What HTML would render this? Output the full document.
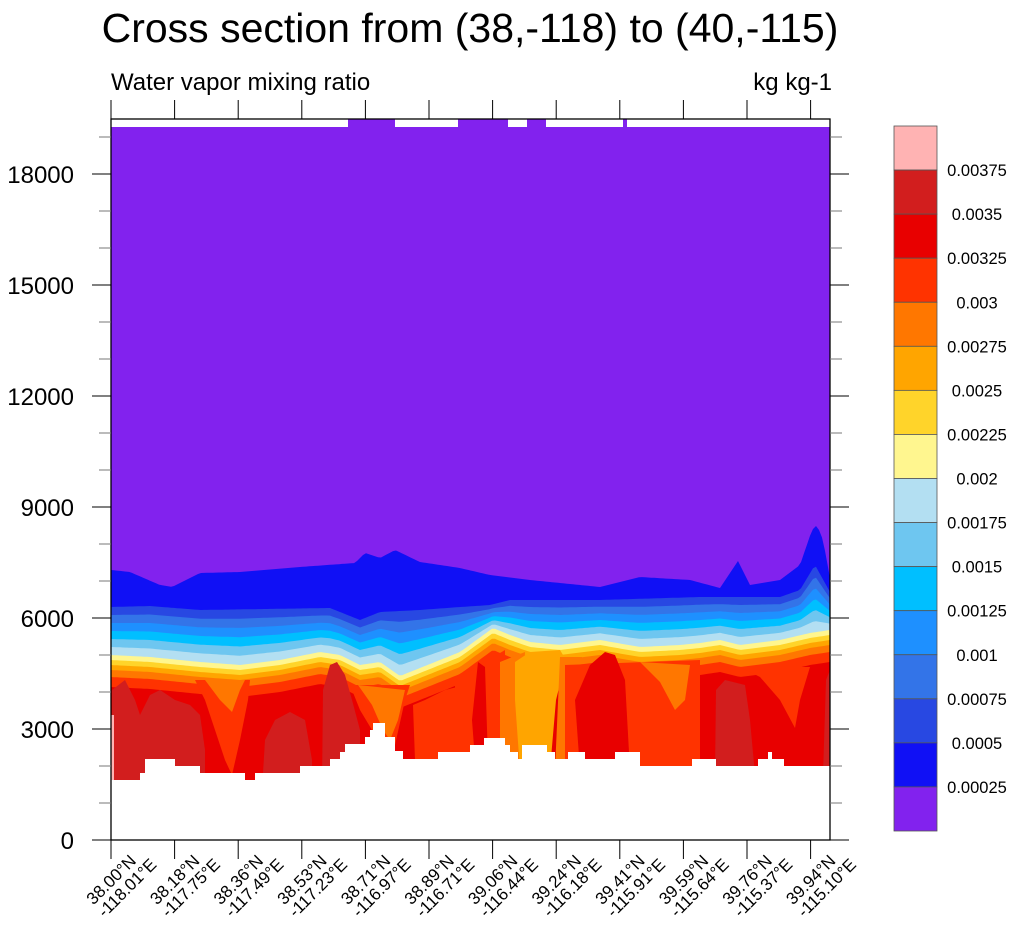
<!DOCTYPE html>
<html><head><meta charset="utf-8"><style>
body{margin:0;background:#fff;width:1016px;height:924px;overflow:hidden}
svg text{font-family:"Liberation Sans",sans-serif;fill:#000}
</style></head><body>
<svg id="s" width="1016" height="924" xmlns="http://www.w3.org/2000/svg">
<text x="470" y="42" font-size="41" text-anchor="middle">Cross section from (38,-118) to (40,-115)</text>
<text x="111" y="90" font-size="24">Water vapor mixing ratio</text>
<text x="832" y="90" font-size="24" text-anchor="end">kg kg-1</text>
<g id="plot"></g>
<g id="axes"></g>
<g id="cb"></g>
</svg>
<script>
var NS="http://www.w3.org/2000/svg";
function el(p,t,a,txt){var e=document.createElementNS(NS,t);for(var k in a)e.setAttribute(k,a[k]);if(txt!==undefined)e.textContent=txt;document.getElementById(p).appendChild(e);return e;}
function interp(arr,x){for(var i=0;i<arr.length-1;i++){if(x>=arr[i][0]&&x<=arr[i+1][0]){var t=(x-arr[i][0])/(arr[i+1][0]-arr[i][0]);return arr[i][1]+t*(arr[i+1][1]-arr[i][1]);}}return arr[arr.length-1][1];}
var P=[[111,570],[130,572],[160,585],[172,587],[200,573],[240,572],[300,567],[355,563],[365,553],[380,558],[395,550],[420,562],[460,568],[490,575],[530,580],[560,583],[600,587],[640,577],[690,580],[720,588],[738,561],[750,585],[780,580],[800,565],[812,530],[817,525],[823,540],[830,578]];
var B=[[111,607],[150,606],[200,610],[330,608],[360,620],[380,612],[420,610],[460,607],[490,605],[510,600],[600,600],[700,597],[780,597],[800,590],[815,565],[830,592]];
var Y=[[111,655],[150,657],[200,662],[240,665],[280,660],[320,652],[340,655],[360,665],[380,662],[400,676],[420,668],[460,652],[493,628],[510,635],[530,642],[560,645],[600,640],[640,647],[680,645],[700,643],[720,640],[740,645],[780,640],[810,633],[830,630]];
function curvePoly(fn){var pts=[];for(var x=111;x<=830;x+=3)pts.push(x+","+fn(x).toFixed(1));pts.push("830,"+fn(830).toFixed(1));pts.push("830,840","111,840");return pts.join(" ");}
el("plot","rect",{x:111,y:119,width:719,height:721,fill:"#8222EE"});
el("plot","polygon",{points:curvePoly(function(x){return interp(P,x);}),fill:"#1010F5"});
var mid=["#2848E2","#3374E8","#1E90FF","#00BFFF","#6EC6F0","#B3DFF2"];
mid.forEach(function(c,i){el("plot","polygon",{points:curvePoly(function(x){var b=interp(B,x),y=interp(Y,x);return b+(y-b)*i/6;}),fill:c});});
[["#FFF68F",0],["#FFD42A",5],["#FFA500",10],["#FF7700",15],["#FF3300",22],["#E80000",32]].forEach(function(a){el("plot","polygon",{points:curvePoly(function(x){return interp(Y,x)+a[1];}),fill:a[0]});});
var polys=[
["#D21E1E","112,690 125,680 135,700 140,715 150,695 160,690 175,700 190,705 200,715 205,750 205,790 112,790"],
["#FF3300","195,680 205,700 215,730 225,760 232,775 240,740 248,700 250,680"],
["#FF7700","205,680 220,700 232,712 240,690 245,680"],
["#D21E1E","262,790 265,740 275,720 290,712 305,720 312,760 312,790"],
["#D21E1E","322,790 323,690 330,665 337,662 345,675 352,700 360,730 360,790"],
["#FF3300","350,685 360,710 375,735 385,755 395,745 405,700 410,685"],
["#FF7700","358,685 372,705 383,730 390,740 398,720 405,690"],
["#FF3300","413,705 425,700 445,690 465,685 470,700 468,760 415,760"],
["#FF3300","455,680 505,650 505,770 455,770"],
["#E80000","472,720 478,662 485,667 488,760 475,760"],
["#FF7700","500,662 525,652 520,770 500,770"],
["#FFA500","515,662 530,652 560,650 566,660 556,700 550,770 520,770 515,700"],
["#FF7700","560,657 582,657 572,700 566,770 555,770"],
["#FF3300","565,665 700,660 700,775 565,775"],
["#E80000","575,700 590,665 605,652 615,655 625,680 630,770 580,770"],
["#FF7700","640,662 660,682 675,710 685,700 690,665"],
["#D21E1E","715,775 716,690 725,680 745,685 750,720 755,775"],
["#FF3300","740,667 760,677 780,700 795,728 800,700 810,667"],
["#D21E1E","823,775 826,680 830,670 830,775"],
["#FFB3B3","111,715 114,715 114,790 111,790"]
];
polys.forEach(function(p){el("plot","polygon",{points:p[1],fill:p[0]});});
var T=[[111,780],[140,780],[140,773],[145,773],[145,759],[175,759],[175,766],[200,766],[200,773],[245,773],[245,780],[255,780],[255,773],[300,773],[300,766],[330,766],[330,759],[340,759],[340,752],[345,752],[345,744],[365,744],[365,737],[370,737],[370,730],[373,730],[373,723],[385,723],[385,737],[395,737],[395,751],[403,751],[403,759],[438,759],[438,752],[470,752],[470,745],[484,745],[484,738],[505,738],[505,745],[510,745],[510,752],[518,752],[518,759],[522,759],[522,745],[547,745],[547,752],[555,752],[555,759],[568,759],[568,752],[585,752],[585,759],[615,759],[615,752],[640,752],[640,766],[692,766],[692,759],[716,759],[716,766],[758,766],[758,759],[768,759],[768,752],[772,752],[772,759],[784,759],[784,766],[830,766],[830,840],[111,840]];
el("plot","polygon",{points:T.map(function(p){return p.join(",");}).join(" "),fill:"#fff"});
el("plot","rect",{x:111,y:119,width:719,height:8,fill:"#fff"});
[[348,395],[458,508],[527,546],[623,627]].forEach(function(s){el("plot","rect",{x:s[0],y:119,width:s[1]-s[0],height:8,fill:"#8222EE"});});
el("axes","rect",{x:111,y:119,width:719,height:721,fill:"none",stroke:"#000","stroke-width":1.3});
for(var v=0;v<=19000;v+=1000){var y=840-v*666/18000;var maj=v%3000==0;var len=maj?19:12;
el("axes","line",{x1:111-len,y1:y,x2:111,y2:y,stroke:maj?"#000":"#777","stroke-width":1});
el("axes","line",{x1:830,y1:y,x2:830+len,y2:y,stroke:maj?"#000":"#777","stroke-width":1});
if(maj&&v<=18000)el("axes","text",{x:74,y:y+9,"font-size":24,"text-anchor":"end"},String(v));}
var labs=[["38.00°N","-118.01°E"],["38.18°N","-117.75°E"],["38.36°N","-117.49°E"],["38.53°N","-117.23°E"],["38.71°N","-116.97°E"],["38.89°N","-116.71°E"],["39.06°N","-116.44°E"],["39.24°N","-116.18°E"],["39.41°N","-115.91°E"],["39.59°N","-115.64°E"],["39.76°N","-115.37°E"],["39.94°N","-115.10°E"]];
labs.forEach(function(l,i){var x=111+i*63.6;
el("axes","line",{x1:x,y1:840,x2:x,y2:859,stroke:"#000"});
el("axes","line",{x1:x,y1:119,x2:x,y2:100,stroke:"#000"});
var t=el("axes","text",{transform:"translate("+(x+26)+",862) rotate(-45)","font-size":17,"text-anchor":"end"});
var a=document.createElementNS(NS,"tspan");a.setAttribute("x",0);a.setAttribute("y",0);a.textContent=l[0];t.appendChild(a);
var b=document.createElementNS(NS,"tspan");b.setAttribute("x",12);b.setAttribute("y",17);b.textContent=l[1];t.appendChild(b);});
var cols=["#FFB3B3","#D21E1E","#E80000","#FF3300","#FF7700","#FFA500","#FFD42A","#FFF68F","#B3DFF2","#6EC6F0","#00BFFF","#1E90FF","#3374E8","#2848E2","#1010F5","#8222EE"];
var cl=["0.00375","0.0035","0.00325","0.003","0.00275","0.0025","0.00225","0.002","0.00175","0.0015","0.00125","0.001","0.00075","0.0005","0.00025"];
var h=705/16;
cols.forEach(function(c,i){el("cb","rect",{x:894,y:126+i*h,width:43,height:h,fill:c,stroke:"#555","stroke-width":0.8});});
cl.forEach(function(t,i){el("cb","text",{x:977,y:126+(i+1)*h+6,"font-size":16.5,"text-anchor":"middle"},t);});
</script>
</body></html>
